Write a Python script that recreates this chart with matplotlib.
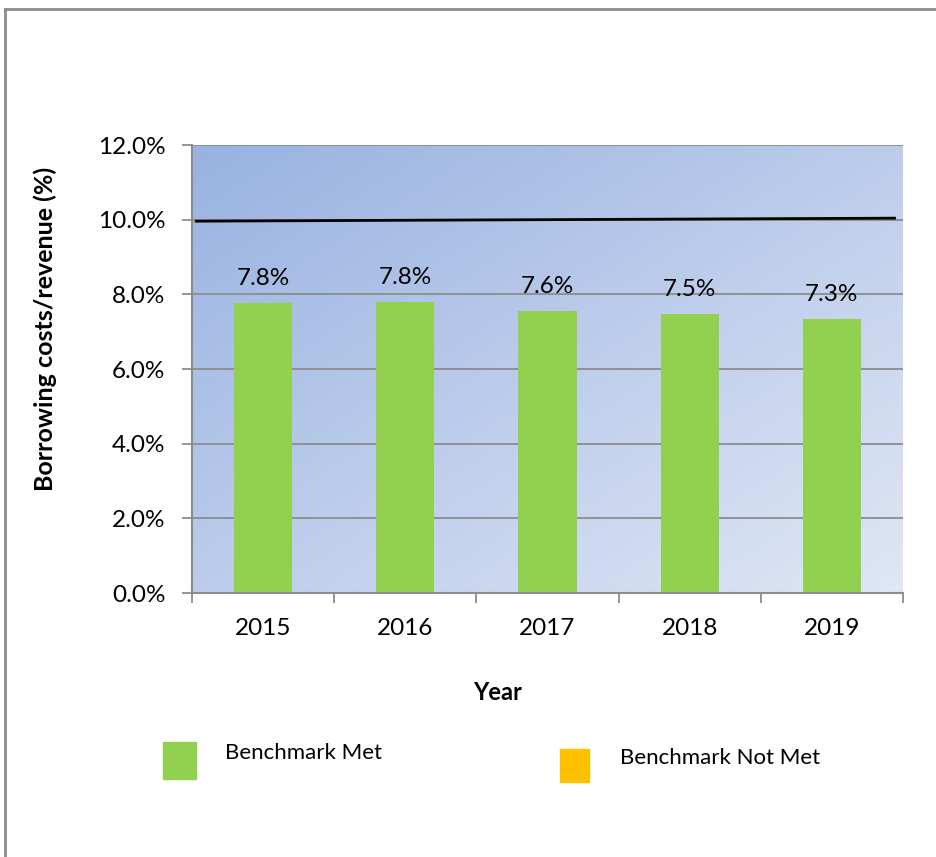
import numpy as np
import matplotlib
matplotlib.use('Agg')
from matplotlib import pyplot as plt
from matplotlib.patches import Rectangle

# chart values
years = ['2015', '2016', '2017', '2018', '2019']
ratio = [7.77, 7.80, 7.56, 7.48, 7.34]
ratio_labels = ['7.8%', '7.8%', '7.6%', '7.5%', '7.3%']
benchmark = [9.96, 10.04]
yticks = [0, 2, 4, 6, 8, 10, 12]
legend_labels = ['Benchmark Met', 'Benchmark Not Met']

plt.rcParams['font.family'] = ['Lato', 'DejaVu Sans']
green = '#92D050'
orange = '#FFC000'
grey = '#8C8C8C'

fig = plt.figure(figsize=(9.36, 8.57), dpi=100)
ax = fig.add_axes([192 / 936, 1 - 593 / 857, 711 / 936, 448 / 857])

# gradient fill for the plot area
gx, gy = np.meshgrid(np.linspace(0, 1, 200), np.linspace(0, 1, 200))
t = (gx + gy) / 2
c0 = np.array([152, 178, 225]) / 255
c1 = np.array([224, 231, 245]) / 255
grad = c0[None, None, :] * (1 - t[..., None]) + c1[None, None, :] * t[..., None]
ax.imshow(grad, extent=[0, 1, 0, 1], transform=ax.transAxes, aspect='auto', zorder=0)

x = np.arange(len(years))
ax.set_xlim(-0.5, len(years) - 0.5)
ax.set_ylim(0, 12)
ax.set_yticks(yticks)
ax.set_yticklabels(['%.1f%%' % v for v in yticks])
ax.yaxis.grid(True, color=grey, linewidth=1.3, zorder=1)
ax.set_axisbelow(True)

bars = ax.bar(x, ratio, width=0.41, color=green, zorder=2)
for xi, v, lab in zip(x, ratio, ratio_labels):
    ax.annotate(lab, (xi, v), xytext=(0, 10), textcoords='offset points',
                ha='center', va='bottom', fontsize=17.5, zorder=4)

ax.plot([-0.47, 4.44], benchmark, color='black', linewidth=2, zorder=3)

# ticks at category boundaries, labels at centres
ax.set_xticks(np.arange(len(years) + 1) - 0.5)
ax.set_xticklabels([])
ax.set_xticks(x, minor=True)
ax.set_xticklabels(years, minor=True, fontsize=17.5)
ax.tick_params(axis='x', which='major', length=7, color=grey, width=1.3)
ax.tick_params(axis='x', which='minor', length=0, pad=18)
ax.tick_params(axis='y', length=7, color=grey, width=1.3, pad=12, labelsize=17.5)

for s in ['top', 'right']:
    ax.spines[s].set_visible(False)
for s in ['left', 'bottom']:
    ax.spines[s].set_color(grey)
    ax.spines[s].set_linewidth(1.5)

ax.set_ylabel('Borrowing costs/revenue (%)', fontsize=18, fontweight='bold')
ax.yaxis.set_label_coords(-0.19, 0.59)
ax.set_xlabel('Year', fontsize=17, fontweight='bold')
ax.xaxis.set_label_coords(0.430, -0.196)

# legend drawn by hand
fig.patches.append(Rectangle((163 / 936, 1 - 779 / 857), 33 / 936, 37 / 857,
                             transform=fig.transFigure, color=green))
fig.patches.append(Rectangle((560 / 936, 1 - 782 / 857), 29 / 936, 33 / 857,
                             transform=fig.transFigure, color=orange))
fig.text(225 / 936, 1 - 753 / 857, legend_labels[0], fontsize=16, va='center')
fig.text(620 / 936, 1 - 758 / 857, legend_labels[1], fontsize=16, va='center')

# outer frame (left and top edges)
fig.add_artist(plt.Line2D([5 / 936, 5 / 936], [0, 1 - 9 / 857], transform=fig.transFigure,
                          color=grey, linewidth=2))
fig.add_artist(plt.Line2D([5 / 936, 1], [1 - 9 / 857, 1 - 9 / 857], transform=fig.transFigure,
                          color=grey, linewidth=2))

fig.savefig('out.png', dpi=100)
